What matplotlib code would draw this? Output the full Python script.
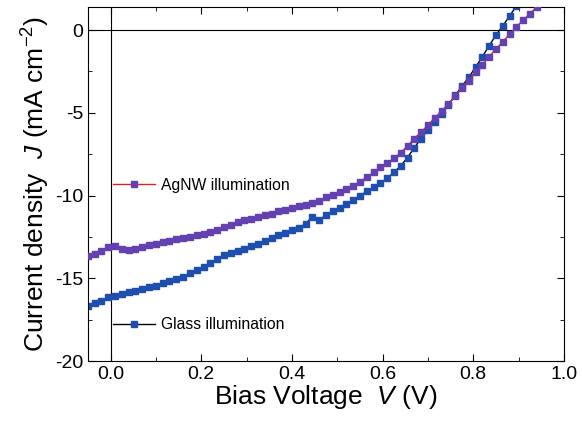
import matplotlib
matplotlib.use("Agg")
import matplotlib.pyplot as plt
from matplotlib.lines import Line2D
from matplotlib.ticker import MultipleLocator

plt.rcParams["font.family"] = ["Liberation Sans", "DejaVu Sans"]
plt.rcParams["mathtext.fontset"] = "custom"
plt.rcParams["mathtext.rm"] = "Liberation Sans"
plt.rcParams["mathtext.it"] = "Liberation Sans:italic"

# Bias voltage (V)
voltage = [-0.05, -0.035, -0.02, -0.005, 0.01, 0.025, 0.04, 0.055, 0.07, 0.085,
           0.1, 0.115, 0.13, 0.145, 0.16, 0.175, 0.19, 0.205, 0.22, 0.235,
           0.25, 0.265, 0.28, 0.295, 0.31, 0.325, 0.34, 0.355, 0.37, 0.385,
           0.4, 0.415, 0.43, 0.445, 0.46, 0.475, 0.49, 0.505, 0.52, 0.535,
           0.55, 0.565, 0.58, 0.595, 0.61, 0.625, 0.64, 0.655, 0.67, 0.685,
           0.7, 0.715, 0.73, 0.745, 0.76, 0.775, 0.79, 0.805, 0.82, 0.835,
           0.85, 0.865, 0.88, 0.895, 0.91, 0.925, 0.94]

# Current density (mA cm^-2), AgNW illumination
j_agnw = [-13.65, -13.5, -13.35, -13.1, -13.05, -13.2, -13.3, -13.2, -13.1, -13.0,
          -12.9, -12.8, -12.75, -12.65, -12.55, -12.5, -12.4, -12.3, -12.2, -12.1,
          -11.9, -11.75, -11.6, -11.5, -11.4, -11.3, -11.2, -11.1, -10.95, -10.85,
          -10.75, -10.65, -10.55, -10.45, -10.3, -10.1, -9.95, -9.8, -9.6, -9.4,
          -9.15, -8.9, -8.6, -8.3, -8.05, -7.75, -7.4, -7.0, -6.55, -6.15,
          -5.75, -5.3, -4.9, -4.45, -4.0, -3.5, -3.05, -2.55, -2.1, -1.6,
          -1.15, -0.7, -0.25, 0.2, 0.6, 1.0, 1.4]

# Current density (mA cm^-2), glass illumination (stops at 0.895 V)
j_glass = [-16.65, -16.5, -16.35, -16.15, -16.05, -15.95, -15.85, -15.75, -15.65, -15.55,
           -15.45, -15.3, -15.15, -15.05, -14.9, -14.7, -14.5, -14.3, -14.05, -13.85,
           -13.6, -13.45, -13.35, -13.2, -13.05, -12.9, -12.75, -12.55, -12.4, -12.25,
           -12.1, -11.95, -11.7, -11.3, -11.45, -11.2, -10.95, -10.75, -10.5, -10.25,
           -10.0, -9.75, -9.5, -9.25, -8.95, -8.6, -8.2, -7.7, -7.1, -6.55,
           -6.05, -5.55, -5.05, -4.5, -3.95, -3.4, -2.85, -2.25, -1.6, -0.95,
           -0.3, 0.25, 0.85, 1.45]

purple = "#6441b0"
blue = "#1f4fae"

fig = plt.figure(figsize=(5.82, 4.34), dpi=100)
ax = fig.add_axes([0.151, 0.168, 0.818, 0.816])

ax.axhline(0, color="black", lw=0.8, zorder=1)
ax.axvline(0, color="black", lw=0.8, zorder=1)

ax.plot(voltage[:len(j_glass)], j_glass, color="black", lw=1,
        marker="s", ms=4.3, mfc=blue, mec=blue, zorder=2)
ax.plot(voltage, j_agnw, color="#e02020", lw=1,
        marker="s", ms=4.3, mfc=purple, mec=purple, zorder=3)

ax.set_xlim(-0.05, 1.0)
ax.set_ylim(-20, 1.4)
ax.xaxis.set_major_locator(MultipleLocator(0.2))
ax.xaxis.set_minor_locator(MultipleLocator(0.1))
ax.yaxis.set_major_locator(MultipleLocator(5))
ax.yaxis.set_minor_locator(MultipleLocator(2.5))
ax.tick_params(which="both", direction="in", top=True, right=True, labelsize=14)
ax.tick_params(which="major", length=5)
ax.tick_params(which="minor", length=3)
ax.xaxis.set_major_formatter(plt.FuncFormatter(lambda v, p: f"{v:.1f}"))
ax.yaxis.set_major_formatter(plt.FuncFormatter(lambda v, p: f"{v:.0f}"))

ax.set_xlabel(r"Bias Voltage  $\mathit{V}$ (V)", fontsize=19, labelpad=0)
ax.set_ylabel(r"Current density  $\mathit{J}$ (mA cm$^{-2}$)", fontsize=19, labelpad=2)

h_agnw = Line2D([], [], color="#e02020", lw=1, marker="s", ms=3.8, mfc=purple, mec=purple)
h_glass = Line2D([], [], color="black", lw=1, marker="s", ms=3.8, mfc=blue, mec=blue)
leg1 = ax.legend([h_agnw], ["AgNW illumination"], loc="center left",
                 bbox_to_anchor=(0.052, 0.497), frameon=False, fontsize=11.3,
                 borderpad=0, borderaxespad=0, handlelength=2.7, handletextpad=0.35)
ax.add_artist(leg1)
ax.legend([h_glass], ["Glass illumination"], loc="center left",
          bbox_to_anchor=(0.052, 0.102), frameon=False, fontsize=11.3,
          borderpad=0, borderaxespad=0, handlelength=2.7, handletextpad=0.35)

fig.savefig("out.png", dpi=100)
